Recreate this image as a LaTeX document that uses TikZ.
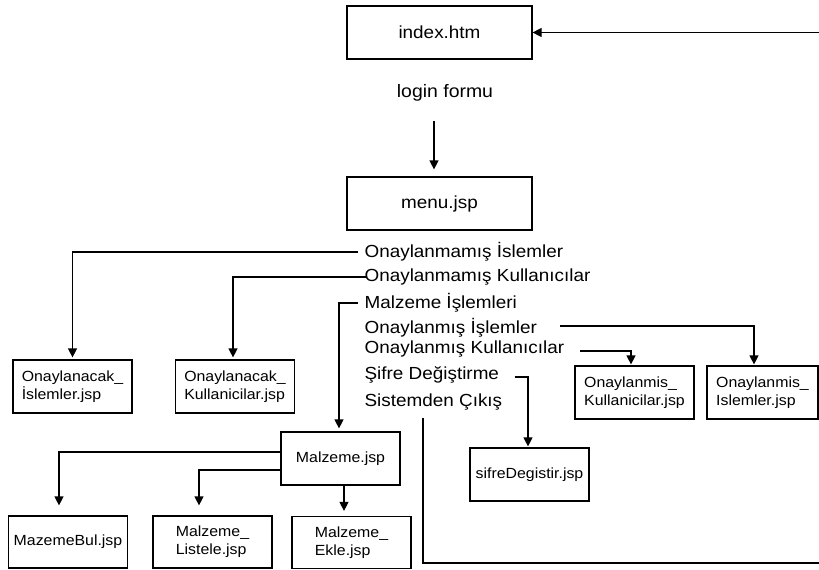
\documentclass[tikz,border=0pt]{standalone}
\usepackage{fontspec}
\setmainfont{Liberation Sans}[FakeStretch=1.08]
\usetikzlibrary{arrows.meta}

\tikzset{
  page/.style={draw, minimum width=119pt, minimum height=53pt, inner sep=0pt, align=left, font=\fontsize{14.7}{18}\selectfont},
  bigpage/.style={page, minimum width=185pt, font=\fontsize{17.5}{20}\selectfont},
  item/.style={anchor=west, inner xsep=6pt, inner ysep=0pt, font=\fontsize{17.5}{20}\selectfont},
  arr/.style={-{Triangle[width=9pt,length=9pt]}}
}

\begin{document}
\begin{tikzpicture}[x=1pt,y=-1pt,line width=1.2pt]
\useasboundingbox (0,0) rectangle (819,570);
% top of the site
\node[bigpage] (index) at (439.5,32.5) {index.htm};
\node[font=\fontsize{18}{20}\selectfont] (login) at (445,93) {login formu};
\node[bigpage] (menu) at (439.5,203.5) {menu.jsp};
\draw[arr] ([xshift=-11pt,yshift=-16pt]login.south) -- ([xshift=-5.5pt,yshift=7pt]menu.north);

% menu items
\node[item] (t1) at (358,252) {Onaylanmamış İslemler};
\node[item] (t2) at (358,277) {Onaylanmamış Kullanıcılar};
\node[item] (t3) at (358,303) {Malzeme İşlemleri};
\node[item] (t4) at (358,328) {Onaylanmış İşlemler};
\node[item] (t5) at (358,349) {Onaylanmış Kullanıcılar};
\node[item] (t6) at (358,375) {Şifre Değiştirme};
\node[item] (t7) at (358,402) {Sistemden Çıkış};

% pages
\node[page] (bOI) at (72.5,386.5) {Onaylanacak\_\\İslemler.jsp};
\node[page] (bOK) at (235,386.5) {Onaylanacak\_\\Kullanicilar.jsp};
\node[page] (bM) at (340.5,458.5) {Malzeme.jsp};
\node[page] (bSD) at (529.5,474.5) {sifreDegistir.jsp};
\node[page] (bNK) at (634.5,392.5) {Onaylanmis\_\\Kullanicilar.jsp};
\node[page, minimum width=111pt] (bNI) at (762.5,392.5) {Onaylanmis\_\\Islemler.jsp};
\node[page, minimum height=52pt] (bMB) at (68,542) {MazemeBul.jsp};
\node[page, minimum height=52pt] (bML) at (212.5,542) {Malzeme\_\\Listele.jsp};
\node[page, minimum height=52pt] (bME) at (351.5,542.5) {Malzeme\_\\Ekle.jsp};

% links
\draw[arr, shorten >=2pt] (t1.west) -| (bOI.north);
\draw[arr, shorten >=2pt] ([xshift=8pt]t2.west) -| ([xshift=-2pt]bOK.north);
\draw[arr, shorten >=3pt] (t3.west) -| ([xshift=-1.5pt]bM.north);
\draw[arr, shorten >=1pt] ([xshift=17pt,yshift=2pt]t4.east) -| ([xshift=-8.5pt]bNI.north);
\draw[arr, shorten >=1pt] ([xshift=9pt,yshift=-2pt]t5.east) -| ([xshift=-3.5pt]bNK.north);
\draw[arr, shorten >=1pt] ([xshift=9pt,yshift=-2pt]t6.east) -| ([xshift=-1.5pt]bSD.north);
\coordinate (exit) at (423,418);
\coordinate (rim) at (830,563);
\draw[arr] (exit) |- (rim) |- (index.east);

\draw[arr, shorten >=10pt] ([yshift=6.5pt]bM.west) -| ([xshift=-9pt]bMB.north);
\draw[arr, shorten >=10pt] ([yshift=-11.5pt]bM.west) -| ([xshift=-13.5pt]bML.north);
\draw[arr, shorten >=5pt] ([xshift=3.5pt]bM.south) -- ([xshift=3.5pt]bM.south |- bME.north);
\end{tikzpicture}
\end{document}
